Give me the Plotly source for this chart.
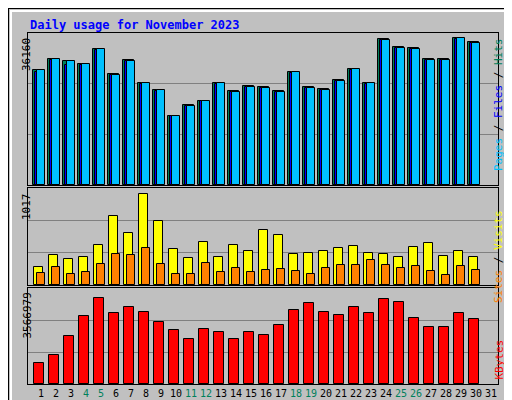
import plotly.graph_objects as go

days = list(range(1, 32))
hits = [28300, 31000, 30510, 29780, 33460, 27320, 30760, 25110, 23390, 17010, 19710, 20700, 25110, 23150, 24380,
        24130, 23150, 27810, 24130, 23640, 25850, 28550, 25110, 35910, 33950, 33700, 31000, 31000, 36160, 35170, None]
files = [27900, 30800, 29600, 29500, 33300, 27000, 30500, 24900, 23200, 16900, 19500, 20600, 24900, 23000, 24100,
         23900, 22900, 27600, 23800, 23400, 25600, 28300, 24900, 35600, 33700, 33400, 30800, 30800, 35900, 34900, None]
pages = [28300, 31000, 30510, 29780, 33460, 27070, 30510, 25110, 23390, 17010, 19460, 20700, 25110, 22900, 24130,
         23890, 22900, 27810, 23890, 23400, 25600, 28550, 25110, 35660, 33700, 33450, 30760, 30760, 36160, 34920, None]
sites = [202, 334, 290, 312, 444, 763, 576, 1017, 708, 400, 301, 477, 312, 444, 378,
         609, 554, 345, 356, 378, 411, 433, 356, 345, 312, 422, 466, 323, 378, 312, None]
visits = [136, 202, 125, 147, 235, 345, 334, 411, 235, 125, 125, 246, 147, 191, 147,
          169, 180, 158, 125, 191, 224, 224, 279, 224, 191, 213, 158, 114, 213, 169, None]
kbytes = [872000, 1185000, 1966000, 2825000, 3566979, 2942000, 3176000, 2981000, 2552000, 2239000, 1849000,
          2278000, 2161000, 1849000, 2161000, 2044000, 2434000, 3059000, 3372000, 2981000, 2864000, 3176000,
          2942000, 3528000, 3411000, 2747000, 2356000, 2356000, 2942000, 2669000, None]
weekends = [4, 5, 11, 12, 18, 19, 25, 26]

fig = go.Figure()
line = dict(color="black", width=1)
fig.add_bar(x=days, y=hits, width=0.7, offset=-0.53, marker=dict(color="#00805c", line=line), xaxis="x", yaxis="y")
fig.add_bar(x=days, y=files, width=0.5, offset=-0.4, marker=dict(color="#0000ff", line=line), xaxis="x", yaxis="y")
fig.add_bar(x=days, y=pages, width=0.53, offset=-0.27, marker=dict(color="#00c0ff", line=line), xaxis="x", yaxis="y")
fig.add_bar(x=days, y=sites, width=0.62, offset=-0.48, marker=dict(color="#ffff00", line=line), xaxis="x2", yaxis="y2")
fig.add_bar(x=days, y=visits, width=0.55, offset=-0.27, marker=dict(color="#ff8000", line=line), xaxis="x2", yaxis="y2")
fig.add_bar(x=days, y=kbytes, width=0.67, offset=-0.45, marker=dict(color="#ff0000", line=line), xaxis="x3", yaxis="y3")

xr = [0.133, 31.47]
xd = [20 / 512, 490 / 512]
def yax(dom, top, anchor):
    return dict(domain=dom, range=[0, top], tickvals=[top / 3, 2 * top / 3], showticklabels=False,
                gridcolor="#808080", gridwidth=1, showline=True, linecolor="black", mirror=True,
                zeroline=False, anchor=anchor, fixedrange=True)
def xax(anchor, labels=False):
    d = dict(domain=xd, range=xr, showgrid=False, showline=True, linecolor="black", mirror=True,
             zeroline=False, anchor=anchor, tickvals=days, ticks="", showticklabels=labels)
    if labels:
        d["ticktext"] = [f"<span style='color:#00805c'>{d_}</span>" if d_ in weekends else str(d_) for d_ in days]
        d["tickfont"] = dict(family="DejaVu Sans Mono", size=10, color="black")
        d["tickangle"] = 0
    return d

fig.update_layout(
    width=512, height=400, margin=dict(l=0, r=0, t=0, b=0),
    paper_bgcolor="#c0c0c0", plot_bgcolor="#c0c0c0", showlegend=False,
    barmode="overlay", bargap=0,
    xaxis=xax("y"), yaxis=yax([0.5575, 0.9375], 37400, "x"),
    xaxis2=xax("y2"), yaxis2=yax([0.3075, 0.55], 1080, "x2"),
    xaxis3=xax("y3", True), yaxis3=yax([0.06, 0.3], 3972000, "x3"),
)

ann = [
    dict(text="<b>Daily usage for November 2023</b>", x=20 / 512, y=1 - 8 / 400, xanchor="left", yanchor="top",
         font=dict(family="DejaVu Sans Mono", size=12, color="#0000ff")),
    dict(text="36160", x=10 / 512, y=1 - 28 / 400, textangle=-90, yanchor="top",
         font=dict(family="DejaVu Sans Mono", size=11, color="black")),
    dict(text="1017", x=10 / 512, y=1 - 183 / 400, textangle=-90, yanchor="top",
         font=dict(family="DejaVu Sans Mono", size=11, color="black")),
    dict(text="3566979", x=10 / 512, y=1 - 283 / 400, textangle=-90, yanchor="top",
         font=dict(family="DejaVu Sans Mono", size=11, color="black")),
    dict(text="<span style='color:#00c0ff'>Pages</span> / <span style='color:#0000ff'>Files</span> / <span style='color:#00805c'>Hits</span>",
         x=499 / 512, y=1 - 28 / 400, textangle=-90, yanchor="top",
         font=dict(family="DejaVu Sans Mono", size=11, color="black")),
    dict(text="<span style='color:#ff8000'>Sites</span> / <span style='color:#ffff00'>Visits</span>",
         x=499 / 512, y=1 - 200 / 400, textangle=-90, yanchor="top",
         font=dict(family="DejaVu Sans Mono", size=11, color="black")),
    dict(text="<span style='color:#ff0000'>KBytes</span>",
         x=499 / 512, y=1 - 330 / 400, textangle=-90, yanchor="top",
         font=dict(family="DejaVu Sans Mono", size=11, color="black")),
]
for a in ann:
    a.update(xref="paper", yref="paper", showarrow=False)
fig.update_layout(annotations=ann)

fig.update_layout(shapes=[
    dict(type="rect", xref="paper", yref="paper", x0=0, x1=1, y0=0, y1=1, line=dict(color="black", width=2)),
    dict(type="line", xref="paper", yref="paper", x0=2 / 512, x1=506 / 512, y0=1 - 3 / 400, y1=1 - 3 / 400,
         line=dict(color="white", width=2)),
    dict(type="line", xref="paper", yref="paper", x0=3 / 512, x1=3 / 512, y0=5 / 400, y1=1 - 3 / 400,
         line=dict(color="white", width=2)),
    dict(type="line", xref="paper", yref="paper", x0=507 / 512, x1=507 / 512, y0=2 / 400, y1=1 - 3 / 400,
         line=dict(color="#808080", width=4)),
    dict(type="line", xref="paper", yref="paper", x0=3 / 512, x1=508 / 512, y0=3 / 400, y1=3 / 400,
         line=dict(color="#808080", width=4)),
])

fig.write_html("out.html")
